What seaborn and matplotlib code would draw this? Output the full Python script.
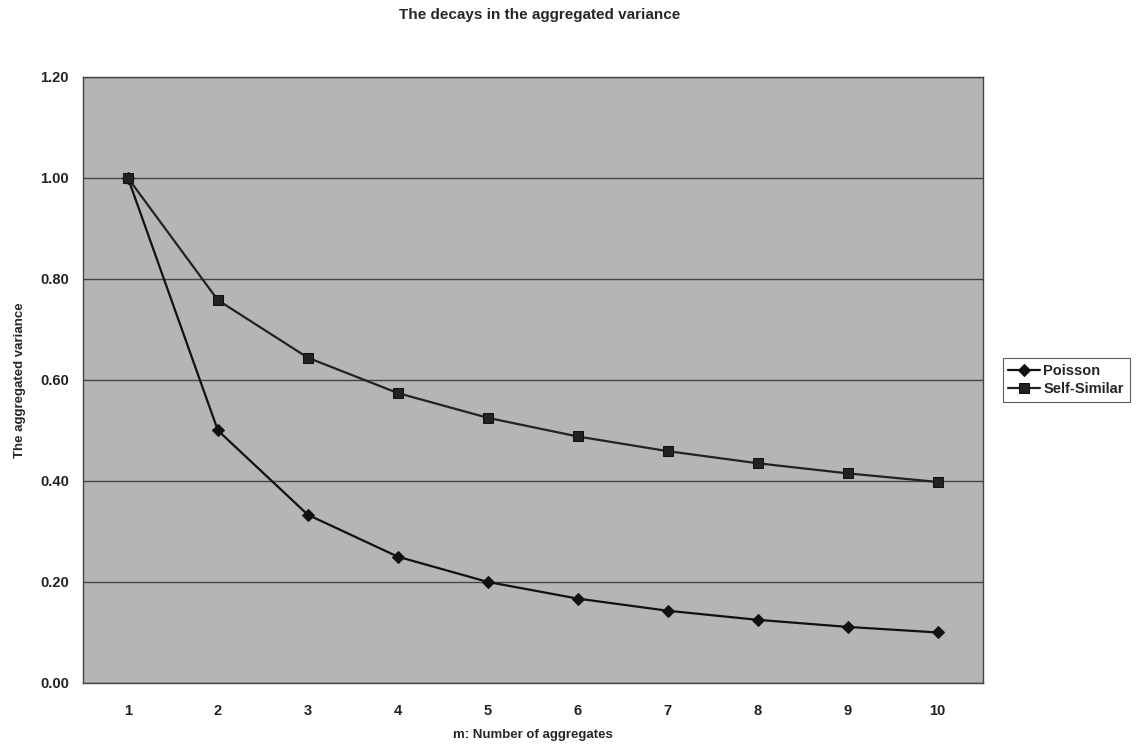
import matplotlib
matplotlib.use("Agg")
import matplotlib.pyplot as plt
import seaborn as sns
import pandas as pd

m_values = [1, 2, 3, 4, 5, 6, 7, 8, 9, 10]
poisson = [1.00, 0.50, 0.333, 0.25, 0.20, 0.167, 0.143, 0.125, 0.111, 0.10]
self_similar = [1.00, 0.758, 0.644, 0.574, 0.525, 0.488, 0.459, 0.435, 0.415, 0.398]
y_ticks = [0.0, 0.2, 0.4, 0.6, 0.8, 1.0, 1.2]

sns.set_style("white")
plt.rcParams['font.family'] = ['Liberation Sans', 'DejaVu Sans']
plt.rcParams['font.weight'] = 'bold'

df = pd.DataFrame({
    "m": m_values * 2,
    "value": poisson + self_similar,
    "series": ["Poisson"] * 10 + ["Self-Similar"] * 10,
})

fig = plt.figure(figsize=(11.36, 7.51), dpi=100)
ax = fig.add_axes([0.073, 0.0906, 0.792, 0.807])
ax.set_facecolor("#b5b5b5")

sns.lineplot(data=df, x="m", y="value", hue="series", style="series",
             markers={"Poisson": "D", "Self-Similar": "s"}, dashes=False,
             palette={"Poisson": "#111111", "Self-Similar": "#222222"},
             markersize=6.5, linewidth=1.6, ax=ax, legend=True,
             markeredgecolor="#111111")

ax.set_xlim(0.5, 10.5)
ax.set_ylim(0, 1.2)
ax.set_yticks(y_ticks)
ax.set_yticklabels([f"{v:.2f}" for v in y_ticks], fontsize=10.5, fontweight='bold', color="#222222")
ax.set_xticks(m_values)
ax.set_xticklabels([str(v) for v in m_values], fontsize=10.5, fontweight='bold', color="#222222")
ax.set_xticks([i + 0.5 for i in range(0, 11)], minor=True)
ax.tick_params(axis='x', which='major', length=0, pad=15)
ax.tick_params(axis='x', which='minor', length=4, color="#333333", direction='out')
ax.tick_params(axis='y', length=4, color="#333333", direction='out', pad=6)
ax.grid(axis='y', color="#444444", linewidth=1.0)
ax.set_axisbelow(True)
for s in ax.spines.values():
    s.set_color("#444444")
    s.set_linewidth(1.0)

ax.set_xlabel("m: Number of aggregates", fontsize=9.5, fontweight='bold', labelpad=8)
ax.set_ylabel("The aggregated variance", fontsize=9.5, fontweight='bold', labelpad=10)
fig.text(0.475, 0.99, "The decays in the aggregated variance", ha='center', va='top',
         fontsize=11, fontweight='bold')

leg = ax.legend(loc='center left', bbox_to_anchor=(1.014, 0.5), frameon=True,
                fancybox=False, edgecolor="#333333", fontsize=10.5,
                handlelength=2.2, handletextpad=0.2, borderpad=0.4, labelspacing=0.3)
leg.get_frame().set_linewidth(0.8)

fig.savefig("out.png", dpi=100)
